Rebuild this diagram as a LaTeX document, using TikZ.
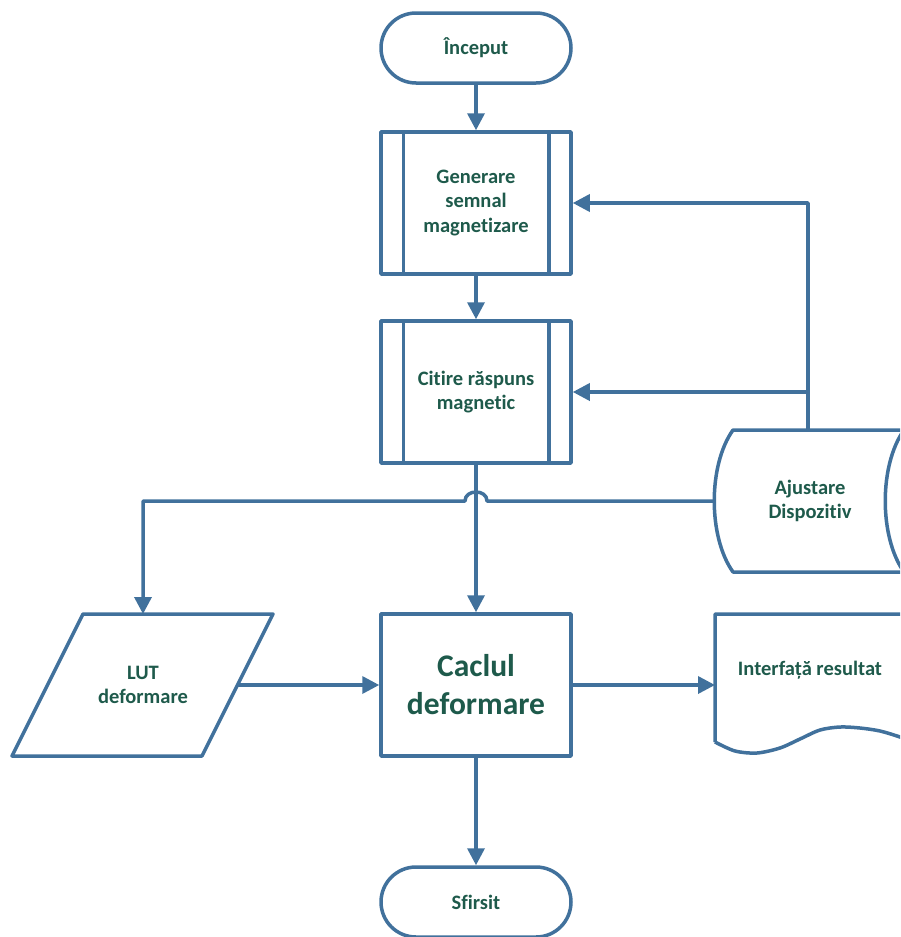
\documentclass[tikz,border=0pt]{standalone}
\usepackage{fontspec}
\setmainfont[Ligatures={NoCommon}]{Carlito}
\usetikzlibrary{arrows.meta}
\definecolor{flowline}{RGB}{65,113,156}
\definecolor{flowtext}{RGB}{30,90,75}
\begin{document}
\begin{tikzpicture}[x=1pt,y=-1pt,
  every node/.style={text=flowtext, font=\bfseries\fontsize{20.5}{24.5}\selectfont, align=center},
  line/.style={draw=flowline, line width=3.5pt, line join=round},
  conn/.style={line, -{Triangle[length=17pt,width=17pt]}},
  terminal/.style={line, fill=white, rounded corners=35pt, minimum width=190pt, minimum height=70pt},
  process/.style={line, fill=white, minimum width=190pt, minimum height=142pt},
  bigtext/.style={font=\bfseries\fontsize{31.5}{38}\selectfont},
]
\useasboundingbox (0,0) rectangle (900,937);

% main column
\node[terminal] (start) at (476,48) {Început};
\node[process] (gen) at (476,203) {Generare\\semnal\\magnetizare};
\node[process] (cit) at (476,392) {Citire răspuns\\magnetic};
\node[process, bigtext] (cal) at (476,685) {Caclul\\deformare};
\node[terminal] (stop) at (476,902) {Sfirsit};

% predefined-process side bars
\foreach \n in {gen,cit}{
  \draw[line] ([xshift=24pt]\n.north west) -- ([xshift=24pt]\n.south west);
  \draw[line] ([xshift=-24pt]\n.north east) -- ([xshift=-24pt]\n.south east);
}

% LUT input (parallelogram)
\draw[line, fill=white] (83,614) -- (273,614) -- (202,756) -- (12,756) -- cycle;
\node (lut) at (143,685) {LUT\\deformare};
\coordinate (lutN) at (143,614);
\coordinate (lutE) at (238,685);

% storage and document shapes run past the right edge
\begin{scope}
\clip (0,0) rectangle (900,937);
\draw[line, fill=white] (935,430) -- (733,430)
  .. controls (708,465) and (708,537) .. (733,572) -- (935,572);
\draw[line] (904,430) .. controls (879,465) and (879,537) .. (904,572);
\draw[line, fill=white] (935,614) -- (715,614) -- (715,742)
  plot[smooth] coordinates {(715,742) (735,751) (757,753) (780,748) (800,739)
    (820,730) (840,727) (860,728) (880,731) (900,737) (915,743)} -- (935,743);
\end{scope}
\node (ajust) at (810,501) {Ajustare\\Dispozitiv};
\node (doc) at (810,670) {Interfață resultat};
\coordinate (ajN) at (808,430);
\coordinate (ajW) at (714,501);
\coordinate (docW) at (715,685);

% connectors
\draw[conn] (start) -- (gen);
\draw[conn] (gen) -- (cit);
\draw[conn] (cit) -- (cal);
\draw[conn] (cal) -- (stop);
\draw[conn] (ajN) |- (gen.east);
\draw[conn] (ajN) |- (cit.east);
\draw[conn] (ajW) -- (487,501) .. controls (487,489) and (465,489) .. (465,501)
  -- (143,501) -- (lutN);
\draw[conn] (lutE) -- (cal.west);
\draw[conn] (cal.east) -- (docW);
\end{tikzpicture}
\end{document}
